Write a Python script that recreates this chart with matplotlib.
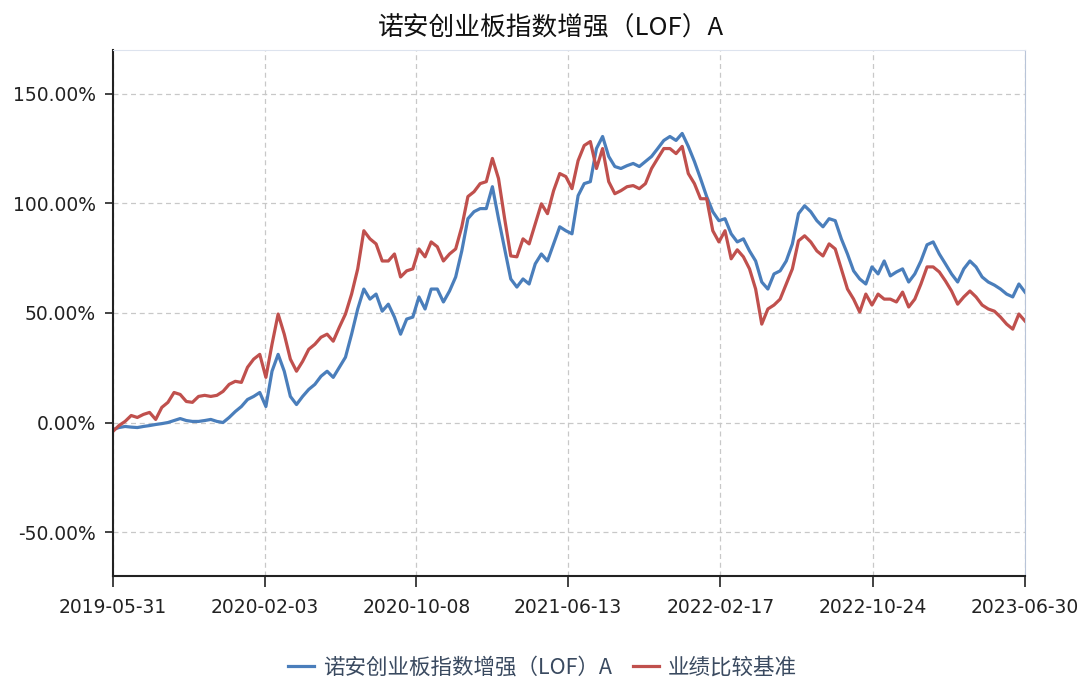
import matplotlib
matplotlib.use("Agg")
import matplotlib.pyplot as plt
from matplotlib.ticker import FuncFormatter
import pandas as pd

plt.rcParams['font.family'] = ['Noto Sans CJK SC', 'DejaVu Sans']

title = "诺安创业板指数增强（LOF）A"
fund_name = "诺安创业板指数增强（LOF）A"
bench_name = "业绩比较基准"

start_date = "2019-05-31"
end_date = "2023-06-30"
tick_labels = ["2019-05-31", "2020-02-03", "2020-10-08", "2021-06-13",
               "2022-02-17", "2022-10-24", "2023-06-30"]
y_ticks = [-50, 0, 50, 100, 150]

# 累计收益率（%），约每10天一个点
fund = [-3.2, -2.3, -1.8, -2.1, -2.3, -1.8, -1.4, -0.9, -0.5, 0.0,
        0.9, 1.8, 0.9, 0.5, 0.5, 0.9, 1.4, 0.5, 0.0, 2.3,
        5.0, 7.3, 10.5, 11.9, 13.7, 7.3, 23.4, 31.1, 23.4, 11.9,
        8.2, 11.9, 15.1, 17.4, 21.1, 23.4, 20.6, 25.2, 29.8, 40.3,
        51.8, 60.9, 56.3, 58.6, 50.8, 54.0, 48.1, 40.3, 47.2, 48.1,
        57.3, 51.8, 60.9, 60.9, 55.0, 60.0, 66.4, 78.3, 93.0, 96.2,
        97.6, 97.6, 107.6, 93.0, 79.2, 65.5, 61.8, 65.5, 63.2, 72.4,
        76.9, 73.7, 81.5, 89.3, 87.5, 86.1, 103.5, 109.0, 109.9, 125.0,
        130.5, 121.4, 116.8, 115.9, 117.2, 118.2, 116.8, 119.1, 121.4, 125.0,
        128.7, 130.5, 128.7, 131.9, 126.0, 119.1, 111.3, 103.1, 96.2, 92.1,
        93.0, 86.1, 82.4, 83.8, 78.3, 73.7, 64.1, 60.9, 67.8, 69.2,
        73.7, 81.5, 95.3, 98.9, 96.2, 92.1, 89.3, 93.0, 92.1, 83.8,
        76.9, 69.2, 65.5, 63.2, 71.0, 67.8, 73.7, 66.9, 68.7, 70.1,
        64.1, 67.8, 73.7, 81.1, 82.4, 76.9, 72.4, 67.8, 64.1, 70.1,
        73.7, 71.0, 66.4, 64.1, 62.7, 60.9, 58.6, 57.3, 63.2, 59.5]

bench = [-4.1, -1.4, 0.5, 3.2, 2.3, 3.7, 4.6, 1.4, 6.9, 9.2,
         13.7, 12.8, 9.6, 9.2, 11.9, 12.4, 11.9, 12.4, 14.2, 17.4,
         18.8, 18.3, 25.2, 28.9, 31.1, 20.6, 35.7, 49.5, 40.3, 28.9,
         23.4, 27.9, 33.4, 35.7, 38.9, 40.3, 37.1, 43.5, 49.5, 58.6,
         70.1, 87.5, 83.8, 81.5, 73.7, 73.7, 76.9, 66.4, 69.2, 70.1,
         79.2, 75.6, 82.4, 80.2, 73.7, 76.9, 79.2, 89.3, 103.1, 105.3,
         109.0, 109.9, 120.5, 111.3, 93.0, 76.0, 75.6, 83.8, 81.5, 90.7,
         99.8, 95.3, 105.8, 113.6, 112.2, 106.7, 119.5, 126.4, 128.2, 115.9,
         125.0, 109.9, 104.4, 105.8, 107.6, 108.1, 106.7, 109.0, 115.9, 120.5,
         125.0, 125.0, 122.7, 126.0, 113.6, 109.0, 102.1, 102.1, 87.5, 82.4,
         87.5, 74.7, 78.8, 75.6, 70.1, 60.9, 44.9, 51.8, 53.6, 56.3,
         63.2, 70.1, 82.9, 85.2, 82.4, 78.3, 76.0, 81.5, 79.2, 70.1,
         60.9, 56.3, 50.4, 58.6, 53.6, 58.6, 56.3, 56.3, 55.0, 59.5,
         52.7, 56.3, 63.2, 71.0, 71.0, 68.7, 64.6, 60.0, 54.0, 57.3,
         60.0, 57.3, 53.6, 51.8, 50.8, 48.1, 44.9, 42.6, 49.5, 46.3]

dates = pd.date_range(start_date, end_date, periods=len(fund))

fig = plt.figure(figsize=(10.85, 6.84), dpi=100)
ax = fig.add_axes([0.104, 0.158, 0.8407, 0.769])

ax.plot(dates, fund, color="#4a7ebb", linewidth=2.3, label=fund_name)
ax.plot(dates, bench, color="#c0504d", linewidth=2.3, label=bench_name)

ax.set_xlim(pd.Timestamp(start_date), pd.Timestamp(end_date))
ax.set_ylim(-70, 170)
ax.set_xticks([pd.Timestamp(t) for t in tick_labels])
ax.set_xticklabels(tick_labels)
ax.set_yticks(y_ticks)
ax.yaxis.set_major_formatter(FuncFormatter(lambda v, p: "%.2f%%" % v))

ax.grid(True, color="#c8c8c8", linestyle=(0, (4, 3)), linewidth=0.9)
ax.set_axisbelow(True)
ax.tick_params(axis="both", labelsize=13.5, colors="#222222", direction="out", width=1.2)
ax.tick_params(axis="x", length=8, pad=8)
ax.tick_params(axis="y", length=6, pad=6)
for lbl in ax.get_xticklabels() + ax.get_yticklabels():
    lbl.set_family("DejaVu Sans")
for s in ["left", "bottom"]:
    ax.spines[s].set_color("#222222")
    ax.spines[s].set_linewidth(1.5)
ax.spines["right"].set_color("#b8c4d8")
ax.spines["top"].set_color("#dde3ee")

fig.text(0.508, 0.958, title, ha="center", va="center", fontsize=18.5, color="#111111")

leg = fig.legend(loc="center", bbox_to_anchor=(0.5, 0.024), ncol=2, frameon=False,
                 fontsize=15.5, handlelength=1.2, handletextpad=0.4, columnspacing=1.0)
for t in leg.get_texts():
    t.set_color("#3a4a60")

fig.savefig("out.png", dpi=100)
